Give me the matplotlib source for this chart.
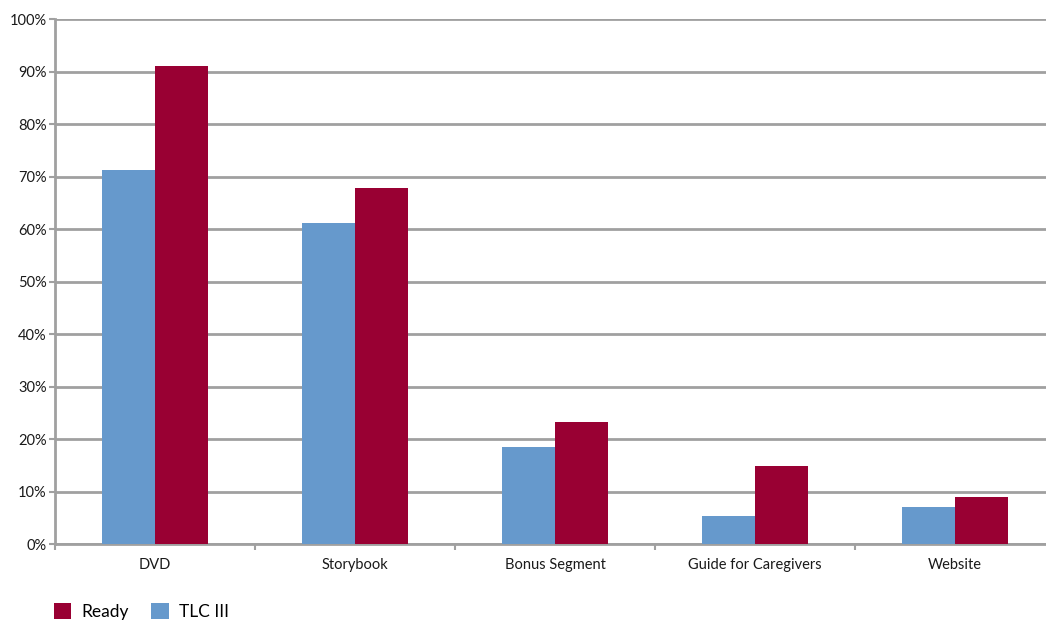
import matplotlib
matplotlib.use('Agg')
import matplotlib.pyplot as plt
import numpy as np

categories = ['DVD', 'Storybook', 'Bonus Segment', 'Guide for Caregivers', 'Website']
tlc_iii = [71.2, 61.1, 18.5, 5.3, 7.0]
ready = [91.0, 67.8, 23.2, 14.9, 9.0]
y_ticks = [0, 10, 20, 30, 40, 50, 60, 70, 80, 90, 100]

plt.rcParams['font.family'] = ['Lato', 'DejaVu Sans']

fig = plt.figure(figsize=(10.46, 6.23), dpi=100)
W, H = 1046, 623
# axes spans x 55..1055 px (right edge beyond the figure), y 19..544 px
ax = fig.add_axes([55 / W, 1 - 544 / H, 1000 / W, 525 / H])

x = np.arange(len(categories))
bw = 0.265
blue = '#6699cc'
red = '#990033'
ax.bar(x - bw / 2, tlc_iii, bw, color=blue, label='TLC III', zorder=3)
ax.bar(x + bw / 2, ready, bw, color=red, label='Ready', zorder=3)

ax.set_xlim(-0.5, len(categories) - 0.5)
ax.set_ylim(0, 100)
ax.set_yticks(y_ticks)
ax.set_yticklabels([f'{v}%' for v in y_ticks], fontsize=10.5, color='#1a1a1a')
ax.yaxis.grid(True, color='#a0a0a0', linewidth=2, zorder=0)
ax.set_axisbelow(True)

ax.set_xticks(x)
ax.set_xticklabels(categories, fontsize=10.5, color='#1a1a1a')
ax.tick_params(axis='x', length=0, pad=10)
ax.set_xticks(np.arange(len(categories) + 1) - 0.5, minor=True)
ax.tick_params(axis='x', which='minor', length=4, width=1.5, color='#a0a0a0', direction='out')
ax.tick_params(axis='y', length=4, width=1.5, color='#a0a0a0', pad=2)

for s in ['top', 'right']:
    ax.spines[s].set_visible(False)
for s in ['left', 'bottom']:
    ax.spines[s].set_color('#a0a0a0')
    ax.spines[s].set_linewidth(2)

handles, labels = ax.get_legend_handles_labels()
fig.legend(handles[::-1], labels[::-1], loc='lower left', bbox_to_anchor=(38 / W, -0.02),
           ncol=2, frameon=False, fontsize=12.5, handlelength=1.0, handleheight=1.0,
           handletextpad=0.6, columnspacing=1.3)

fig.savefig('out.png', dpi=100)
